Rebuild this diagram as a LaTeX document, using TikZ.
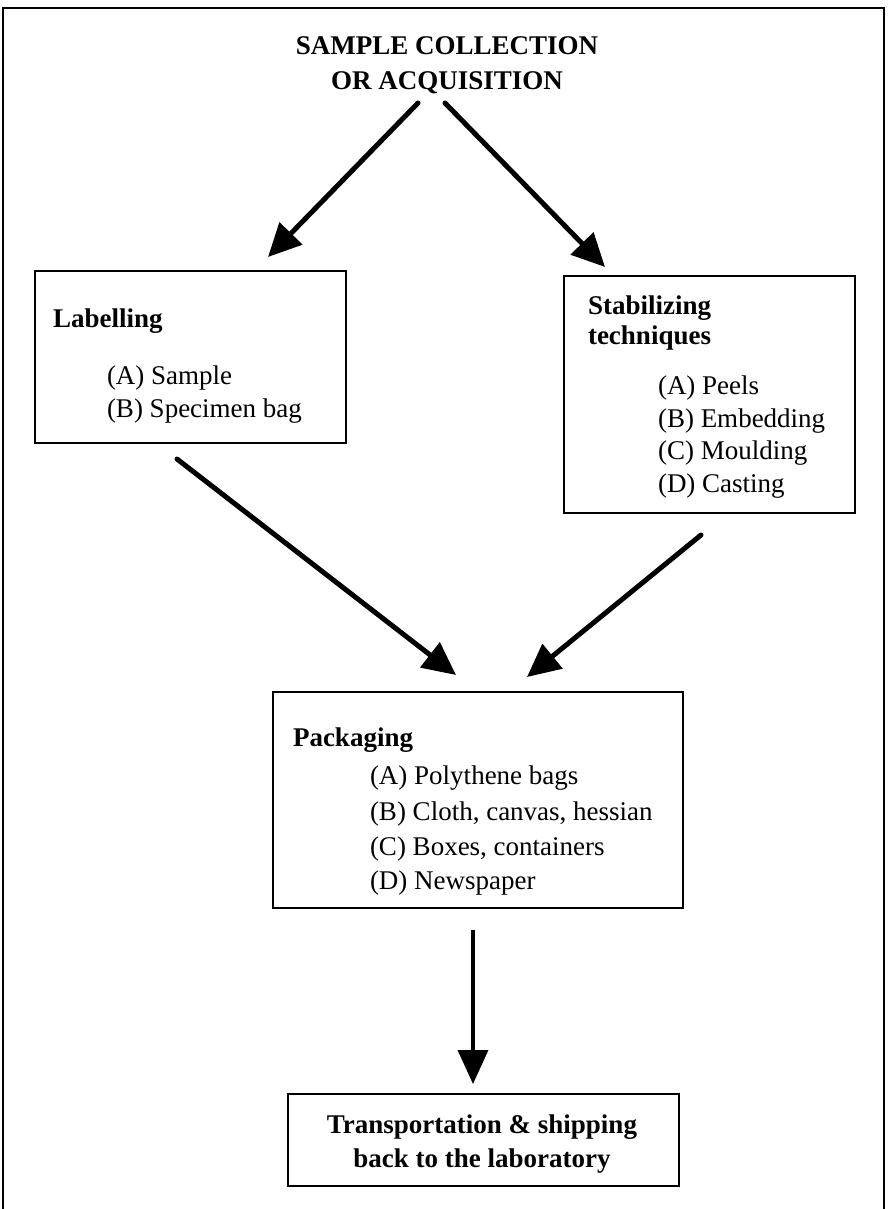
\documentclass[tikz,border=0pt]{standalone}
\usepackage{fontspec}
\setmainfont{Liberation Serif}
\usetikzlibrary{arrows.meta}

\tikzset{
  box/.style={draw, line width=2.8pt, rectangle, inner sep=0pt, outer sep=0pt},
  txt/.style={anchor=base west, inner sep=0pt, outer sep=0pt},
  ctxt/.style={anchor=base, inner sep=0pt, outer sep=0pt},
  flow/.style={line width=5pt, -{Triangle[length=33pt,width=31pt]}},
  thinflow/.style={line width=3.6pt, -{Triangle[length=34pt,width=30pt]}},
}

\begin{document}
\begin{tikzpicture}[x=1pt, y=-1pt, font=\fontsize{27}{33}\selectfont]
\useasboundingbox (0,0) rectangle (887,1209);

% outer frame, open at the bottom
\coordinate (fbl) at (3,1209);
\coordinate (ftl) at (3,8);
\coordinate (ftr) at (884,8);
\coordinate (fbr) at (884,1209);
\draw[line width=2pt] (fbl) -- (ftl) -- (ftr) -- (fbr);

% heading
\node[ctxt] (title1) at (447,55) {\bfseries SAMPLE COLLECTION};
\node[ctxt] (title2) at (447,90) {\bfseries OR ACQUISITION};

% boxes
\node[box, minimum width=311pt, minimum height=172pt] (lab) at (190.5,357) {};
\node[box, minimum width=291pt, minimum height=237pt] (stab) at (709.5,394.5) {};
\node[box, minimum width=410pt, minimum height=216pt] (pack) at (478,800) {};
\node[box, minimum width=391pt, minimum height=92pt] (trans) at (483.5,1140) {};

% labelling
\node[txt] (labH) at (53,327) {\bfseries Labelling};
\node[txt] (labA) at (107,384) {(A) Sample};
\node[txt] (labB) at (107,417) {(B) Specimen bag};

% stabilizing techniques
\node[txt] (stH1) at (588,314) {\bfseries Stabilizing};
\node[txt] (stH2) at (588,344) {\bfseries techniques};
\node[txt] (stA) at (658,394) {(A) Peels};
\node[txt] (stB) at (658,427) {(B) Embedding};
\node[txt] (stC) at (658,459) {(C) Moulding};
\node[txt] (stD) at (658,492) {(D) Casting};

% packaging
\node[txt] (pkH) at (293,746) {\bfseries Packaging};
\node[txt] (pkA) at (370,784) {(A) Polythene bags};
\node[txt] (pkB) at (370,820) {(B) Cloth, canvas, hessian};
\node[txt] (pkC) at (370,855) {(C) Boxes, containers};
\node[txt] (pkD) at (370,889) {(D) Newspaper};

% transportation
\node[ctxt] (trA) at (482,1133) {\bfseries Transportation \& shipping};
\node[ctxt] (trB) at (482,1167) {\bfseries back to the laboratory};

% connector ends
\coordinate (s1) at (418,103);
\coordinate (e1) at (268,257);
\coordinate (s2) at (445,103);
\coordinate (e2) at (605,267);
\coordinate (s3) at (177,459);
\coordinate (e3) at (456,675);
\coordinate (s4) at (701,535);
\coordinate (e4) at (527,677);
\coordinate (s5) at (473,930);
\coordinate (e5) at (473,1084);

\draw[flow, line cap=round] (s1) -- (e1);
\draw[flow, line cap=round] (s2) -- (e2);
\draw[flow, line cap=round] (s3) -- (e3);
\draw[flow, line cap=round] (s4) -- (e4);
\draw[thinflow] (s5) -- (e5);
\end{tikzpicture}
\end{document}
